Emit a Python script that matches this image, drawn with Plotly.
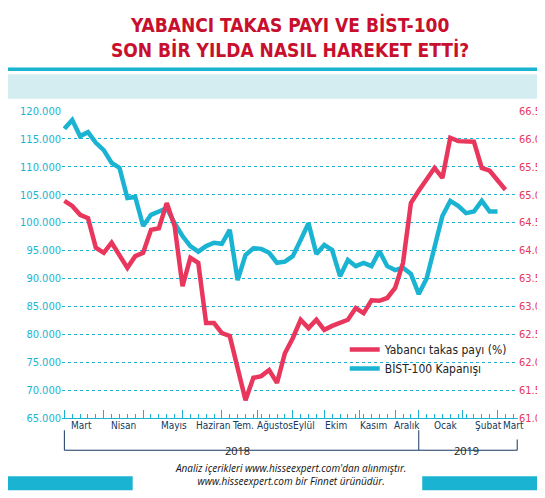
import plotly.graph_objects as go

bist = [116.8,118.4,115.5,116.2,114.3,113.0,110.7,109.8,104.4,104.6,99.4,101.4,102.0,102.6,99.9,97.6,95.8,94.8,95.8,96.4,96.2,98.7,89.7,94.2,95.4,95.3,94.6,92.8,93.0,94.0,96.9,99.9,94.4,96.0,95.1,90.4,93.3,92.2,92.8,92.2,94.9,92.2,91.5,91.9,90.8,87.2,90.0,95.4,101.2,103.9,103.0,101.7,102.0,103.9,102.0,102.0]
takas = [64.89,64.8,64.64,64.58,64.05,63.96,64.14,63.9,63.69,63.9,63.96,64.37,64.4,64.85,64.44,63.36,63.87,63.78,62.7,62.7,62.52,62.47,61.86,61.32,61.72,61.75,61.86,61.63,62.16,62.43,62.76,62.61,62.76,62.58,62.65,62.7,62.76,62.97,62.88,63.11,63.1,63.15,63.33,63.78,64.85,65.07,65.26,65.48,65.3,66.02,65.96,65.96,65.95,65.48,65.43,65.26,65.09]
months = ["Mart","Nisan","Mayıs","Haziran","Tem.","Ağustos","Eylül","Ekim","Kasım","Aralık","Ocak","Şubat","Mart"]
month_pos = [2.2,7.5,13.9,18.9,22.7,26.8,30.4,34.5,39.2,43.5,48.5,53.9,57.0]
month_bounds = [0,5,10,15,20,24.5,29,33,37.5,42,45,50.5,55,57.5]
left_ticks = [65,70,75,80,85,90,95,100,105,110,115,120]
right_ticks = [61.0,61.5,62.0,62.5,63.0,63.5,64.0,64.5,65.0,65.5,66.0,66.5]

TEAL = "#1ab4d2"; PINK = "#e8365d"; RED = "#c8102e"
FONT = "DejaVu Sans Condensed, Liberation Sans Narrow, Roboto, sans-serif"

fig = go.Figure()
fig.add_trace(go.Scatter(x=list(range(len(takas))), y=takas, yaxis="y2", mode="lines",
    line=dict(color=PINK, width=4.5), name="Yabancı takas payı (%)"))
fig.add_trace(go.Scatter(x=list(range(len(bist))), y=[v*1000 for v in bist], mode="lines",
    line=dict(color=TEAL, width=4.5), name="BİST-100 Kapanışı"))

fig.update_layout(
    width=545, height=498, margin=dict(l=52, r=33, t=103, b=88),
    paper_bgcolor="white", plot_bgcolor="white", font=dict(family=FONT),
    showlegend=True,
    legend=dict(x=0.62, y=0.27, xanchor="left", yanchor="top", bgcolor="rgba(255,255,255,0)",
                font=dict(size=12, color="#222", family=FONT), tracegroupgap=0),
    xaxis=dict(range=[-0.3, 57.6], showgrid=False, zeroline=False, showline=True, linecolor=TEAL, linewidth=1,
               tickvals=month_bounds, ticktext=[""]*len(month_bounds), ticks="inside", ticklen=8, tickcolor=TEAL,
               minor=dict(dtick=1, ticks="inside", ticklen=4, tickcolor=TEAL, tick0=0)),
    yaxis=dict(range=[65000, 120000], tickvals=[v*1000 for v in left_ticks],
               ticktext=[f"{v}.000" for v in left_ticks], tickfont=dict(color=TEAL, size=11, family=FONT),
               showgrid=True, gridcolor=TEAL, griddash="dot", gridwidth=1, zeroline=False, ticks=""),
    yaxis2=dict(range=[61.0, 66.5], overlaying="y", side="right", tickvals=right_ticks,
                ticktext=[f"{v:.1f}" for v in right_ticks], tickfont=dict(color=PINK, size=11, family=FONT),
                showgrid=False, zeroline=False),
)

ann = [dict(text="<b>YABANCI TAKAS PAYI VE BİST-100<br>SON BİR YILDA NASIL HAREKET ETTİ?</b>", x=0.5, y=1.155,
            xref="paper", yref="paper", yanchor="bottom", showarrow=False,
            font=dict(size=19, color=RED, family=FONT))]
for m, p in zip(months, month_pos):
    ann.append(dict(text=m, x=p, y=0, xref="x", yref="paper", yshift=-15, showarrow=False,
                    font=dict(size=10, color="#14375e", family=FONT)))
ann.append(dict(text="2018", x=22, y=0, xref="x", yref="paper", yshift=-42, showarrow=False, font=dict(size=11, color="#222", family="Open Sans")))
ann.append(dict(text="2019", x=51, y=0, xref="x", yref="paper", yshift=-42, showarrow=False, font=dict(size=11, color="#222", family="Open Sans")))
ann.append(dict(text="<i>Analiz içerikleri www.hisseexpert.com'dan alınmıştır.<br>www.hisseexpert.com bir Finnet ürünüdür.</i>",
                x=0.5, y=0, xref="paper", yref="paper", yshift=-72, showarrow=False,
                font=dict(size=10, color="#111", family="Open Sans")))
fig.update_layout(annotations=ann)

shapes = [
    dict(type="rect", xref="paper", yref="paper", x0=-0.143, x1=1.05, y0=1.13, y1=1.142, fillcolor=TEAL, line_width=0, layer="below"),
    dict(type="rect", xref="paper", yref="paper", x0=-0.143, x1=1.05, y0=1.04, y1=1.12, fillcolor="#d3edf1", line_width=0, layer="below"),
    dict(type="rect", xref="paper", yref="paper", x0=-0.143, x1=0.155, y0=-0.235, y1=-0.19, fillcolor=TEAL, line_width=0),
    dict(type="rect", xref="paper", yref="paper", x0=0.79, x1=1.05, y0=-0.235, y1=-0.19, fillcolor=TEAL, line_width=0),
    dict(type="path", xref="x", yref="paper", path="M 0,-0.04 L 0,-0.105 L 45,-0.105 L 45,-0.04", line=dict(color="#14375e", width=1)),
    dict(type="path", xref="x", yref="paper", path="M 45,-0.105 L 57.5,-0.105 L 57.5,-0.07", line=dict(color="#14375e", width=1)),
]
fig.update_layout(shapes=shapes)
fig.write_html("out.html")
